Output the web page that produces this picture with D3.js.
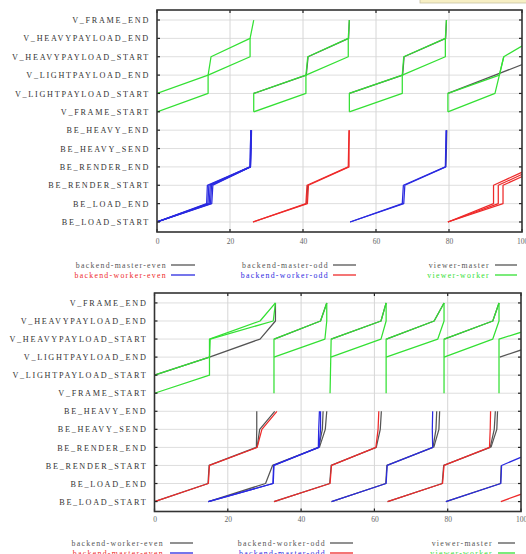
<!DOCTYPE html>
<html><head><meta charset="utf-8">
<script src="https://cdn.jsdelivr.net/npm/d3@7"></script>
<style>html,body{margin:0;padding:0;background:#fff;} svg{display:block;}</style>
</head><body>
<svg id="chart" width="526" height="554"></svg>
<script>
// Event levels, bottom to top
const events = ["BE_LOAD_START","BE_LOAD_END","BE_RENDER_START","BE_RENDER_END","BE_HEAVY_SEND","BE_HEAVY_END",
  "V_FRAME_START","V_LIGHTPAYLOAD_START","V_LIGHTPAYLOAD_END","V_HEAVYPAYLOAD_START","V_HEAVYPAYLOAD_END","V_FRAME_END"];
const timeTicks = [0, 20, 40, 60, 80, 100];

// Each trace: first event name, then the time of that event and of each following event
// ---- run A ----
const runA_backendMasterEven = [
  ["BE_RENDER_END", 79.1, 79.3, 79.4]
];
const runA_backendWorkerEven = [
  ["BE_LOAD_START", 0, 13.6, 13.8, 25.5, 25.6, 25.7],
  ["BE_LOAD_START", 0, 13.95, 14.2, 25.5, 25.6, 25.7],
  ["BE_LOAD_START", 0, 14.3, 14.6, 25.6, 25.7, 25.8],
  ["BE_LOAD_START", 0, 14.65, 14.95, 25.6, 25.7, 25.8],
  ["BE_LOAD_START", 0, 15.0, 15.3, 25.6, 25.8, 25.9],
  ["BE_LOAD_START", 52.9, 67.2, 67.5, 79.0, 79.1, 79.2],
  ["BE_LOAD_START", 52.9, 67.6, 67.9, 79.1, 79.2, 79.3]
];
const runA_backendMasterOdd = [
  ["BE_LOAD_END", 41.0, 41.3]
];
const runA_backendWorkerOdd = [
  ["BE_LOAD_START", 26.3, 40.8, 41.1, 52.4, 52.5, 52.6],
  ["BE_LOAD_START", 26.3, 41.2, 41.5, 52.6, 52.6, 52.7],
  ["BE_LOAD_START", 79.7, 92.2, 92.2, 103.2],
  ["BE_LOAD_START", 79.7, 93.5, 93.5, 104.5],
  ["BE_LOAD_START", 79.7, 94.8, 94.8, 105.8]
];
const runA_viewerMaster = [
  ["V_LIGHTPAYLOAD_START", 26.5, 40.9, 41.4, 52.5, 52.7],
  ["V_LIGHTPAYLOAD_START", 52.7, 67.3, 67.7, 79.1, 79.3],
  ["V_LIGHTPAYLOAD_START", 79.7, 92.6, 105.6]
];
const runA_viewerWorker = [
  ["V_LIGHTPAYLOAD_START", 0, 14.0, 14.8, 25.5, 26.5],
  ["V_FRAME_START", 0, 14.0, 14.0, 25.5, 25.5],
  ["V_FRAME_START", 26.5, 26.5, 40.8, 41.3, 52.4, 52.7],
  ["V_FRAME_START", 26.5, 40.8, 40.8, 52.4, 52.4],
  ["V_FRAME_START", 52.7, 52.7, 67.2, 67.6, 79.0, 79.3],
  ["V_FRAME_START", 52.7, 67.2, 67.2, 79.0, 79.0],
  ["V_FRAME_START", 79.7, 79.7, 93.8, 95.0, 103.5],
  ["V_FRAME_START", 79.7, 92.6, 93.8, 95.0]
];
const legendA = [
  ["backend-master-even", "backend-master-odd", "viewer-master"],
  ["backend-worker-even", "backend-worker-odd", "viewer-worker"]
];

// ---- run B ----
const runB_backendWorkerEven = [
  ["BE_LOAD_START", 14.7, 30.3, 32.2, 44.8, 45.8, 46.0],
  ["BE_RENDER_END", 45.0, 46.6, 47.0],
  ["BE_LOAD_START", 48.3, 63.1, 63.4, 76.0, 76.8, 77.0],
  ["BE_RENDER_END", 76.2, 77.6, 77.8],
  ["BE_LOAD_START", 79.5, 94.4, 94.6]
];
const runB_backendMasterEven = [
  ["BE_LOAD_START", 14.7, 32.4, 32.6, 44.7, 44.8, 45.0],
  ["BE_LOAD_START", 14.7, 32.3, 32.5, 44.9, 45.3, 45.3],
  ["BE_LOAD_START", 48.3, 63.2, 63.5, 75.9, 75.8, 75.9],
  ["BE_LOAD_START", 79.5, 94.5, 94.7, 106.3]
];
const runB_backendWorkerOdd = [
  ["BE_LOAD_START", 0, 14.6, 14.9, 27.8, 27.9, 27.9],
  ["BE_RENDER_END", 28.0, 28.7, 32.8],
  ["BE_LOAD_START", 32.6, 47.8, 48.2, 60.5, 61.6, 61.9],
  ["BE_LOAD_START", 63.6, 78.5, 78.9, 91.6, 92.7, 93.0],
  ["BE_RENDER_END", 91.8, 93.4, 93.6]
];
const runB_backendMasterOdd = [
  ["BE_LOAD_START", 0, 14.7, 15.0, 28.0, 29.3, 33.4],
  ["BE_LOAD_START", 32.6, 47.9, 48.3, 60.4, 61.0, 61.2],
  ["BE_LOAD_START", 63.6, 78.6, 79.0, 91.4, 91.6, 91.7],
  ["BE_LOAD_START", 94.5, 108.0]
];
const runB_viewerMaster = [
  ["V_LIGHTPAYLOAD_START", 0, 15.0, 28.8, 33.0, 33.0],
  ["V_HEAVYPAYLOAD_START", 32.7, 45.3, 47.0],
  ["V_HEAVYPAYLOAD_START", 48.2, 61.8, 63.2],
  ["V_HEAVYPAYLOAD_START", 63.3, 76.3, 79.0],
  ["V_HEAVYPAYLOAD_START", 79.1, 92.3, 94.0],
  ["V_LIGHTPAYLOAD_END", 94.2, 109.0]
];
const runB_viewerWorker = [
  ["V_FRAME_START", 0, 15.0, 15.0, 15.0, 28.8, 33.0],
  ["V_LIGHTPAYLOAD_START", 0, 15.0, 15.2, 32.4, 33.0],
  ["V_FRAME_START", 32.6, 32.6, 32.6, 32.6, 45.3, 47.0],
  ["V_LIGHTPAYLOAD_END", 32.6, 46.5, 47.0, 47.0],
  ["V_FRAME_START", 47.9, 48.0, 48.1, 48.2, 61.8, 63.2],
  ["V_LIGHTPAYLOAD_END", 48.1, 61.8, 63.2, 63.2],
  ["V_FRAME_START", 63.2, 63.2, 63.2, 63.2, 76.3, 79.0],
  ["V_LIGHTPAYLOAD_END", 63.2, 77.3, 79.0, 79.0],
  ["V_FRAME_START", 79.0, 79.0, 79.0, 79.0, 92.3, 94.0],
  ["V_LIGHTPAYLOAD_END", 79.0, 92.3, 94.0, 94.0],
  ["V_FRAME_START", 94.0, 94.0, 94.0, 94.0, 110.0]
];
const legendB = [
  ["backend-worker-even", "backend-worker-odd", "viewer-master"],
  ["backend-master-even", "backend-master-odd", "viewer-worker"]
];

// ---- drawing ----
const GRAY = "#555", RED = "#ee2a2a", BLUE = "#2a2ae0", GREEN = "#33e033";
const svg = d3.select("#chart");
const serif = "'Liberation Serif','DejaVu Serif',serif";

// small yellow note box at the top edge
svg.append("rect").attr("x", 420).attr("y", -3).attr("width", 110).attr("height", 6)
  .attr("fill", "#f7efc4").attr("stroke", "#c9c2a4").attr("stroke-width", 0.8);

const panels = [
  { id: "a", box: { left: 157, right: 522, top: 10, bottom: 232 }, dom: [-0.545, 11.545],
    tickY: 242, legendY: [265, 275],
    series: [
      { traces: runA_backendMasterEven, color: GRAY },
      { traces: runA_backendMasterOdd, color: GRAY },
      { traces: runA_viewerMaster, color: GRAY },
      { traces: runA_backendWorkerEven, color: BLUE },
      { traces: runA_backendWorkerOdd, color: RED },
      { traces: runA_viewerWorker, color: GREEN }
    ],
    legend: legendA,
    legendText: [["#555", "#555", "#555"], [RED, BLUE, GREEN]],
    legendLine: [[GRAY, GRAY, GRAY], [BLUE, RED, GREEN]],
    legendCols: [{ end: 167, x1: 171, x2: 195 }, { end: 329, x1: 333, x2: 356 }, { end: 490, x1: 495, x2: 517 }]
  },
  { id: "b", box: { left: 154.5, right: 521, top: 293, bottom: 511.5 }, dom: [-0.55, 11.55],
    tickY: 520, legendY: [543, 553],
    series: [
      { traces: runB_viewerMaster, color: GRAY },
      { traces: runB_viewerWorker, color: GREEN },
      { traces: runB_backendWorkerEven, color: GRAY },
      { traces: runB_backendWorkerOdd, color: GRAY },
      { traces: runB_backendMasterEven, color: BLUE },
      { traces: runB_backendMasterOdd, color: RED }
    ],
    legend: legendB,
    legendText: [["#555", "#555", "#555"], [RED, BLUE, GREEN]],
    legendLine: [[GRAY, GRAY, GRAY], [BLUE, RED, GREEN]],
    legendCols: [{ end: 164, x1: 170, x2: 193 }, { end: 326, x1: 330, x2: 353 }, { end: 493, x1: 498, x2: 515 }]
  }
];

panels.forEach(p => {
  const b = p.box;
  const x = d3.scaleLinear().domain([0, 100]).range([b.left, b.right]);
  const y = d3.scaleLinear().domain(p.dom).range([b.bottom, b.top]);
  const g = svg.append("g");

  // grid
  g.append("g").selectAll("line").data(d3.range(events.length)).join("line")
    .attr("x1", b.left).attr("x2", b.right).attr("y1", d => y(d)).attr("y2", d => y(d))
    .attr("stroke", "#dedede").attr("stroke-width", 1);
  g.append("g").selectAll("line").data(timeTicks.slice(1, -1)).join("line")
    .attr("y1", b.top).attr("y2", b.bottom).attr("x1", d => x(d)).attr("x2", d => x(d))
    .attr("stroke", "#d6d6d6").attr("stroke-width", 1);

  // traces
  const clipId = "clip-" + p.id;
  svg.append("defs").append("clipPath").attr("id", clipId)
    .append("rect").attr("x", b.left).attr("y", b.top).attr("width", b.right - b.left).attr("height", b.bottom - b.top);
  const line = d3.line().x(d => x(d[0])).y(d => y(d[1]));
  const lg = g.append("g").attr("clip-path", `url(#${clipId})`);
  p.series.forEach(s => {
    lg.append("g").selectAll("path").data(s.traces).join("path")
      .attr("d", tr => {
        const start = events.indexOf(tr[0]);
        return line(tr.slice(1).map((t, i) => [t, start + i]));
      })
      .attr("fill", "none").attr("stroke", s.color).attr("stroke-width", 1.25)
      .attr("stroke-linejoin", "round");
  });

  // axes: event labels on the left, time labels below
  const yAxis = d3.axisLeft(y).tickValues(d3.range(events.length)).tickFormat(i => events[i])
    .tickSize(0).tickPadding(7);
  const ya = g.append("g").attr("transform", `translate(${b.left},0)`).call(yAxis);
  ya.select(".domain").remove();
  ya.selectAll("text").attr("font-family", serif).attr("font-size", 8.2)
    .attr("letter-spacing", "1.7px").attr("fill", "#333");

  const xAxis = d3.axisBottom(x).tickValues(timeTicks).tickSize(0).tickPadding(0);
  const xa = g.append("g").attr("transform", `translate(0,${p.tickY - 3})`).call(xAxis);
  xa.select(".domain").remove();
  xa.selectAll("text").attr("font-family", serif).attr("font-size", 7.5).attr("fill", "#666");

  // tick marks inside the frame
  const tk = g.append("g").attr("stroke", "#222").attr("stroke-width", 1.2);
  d3.range(events.length).forEach(i => {
    tk.append("line").attr("x1", b.left).attr("x2", b.left + 3).attr("y1", y(i)).attr("y2", y(i));
    tk.append("line").attr("x1", b.right - 3).attr("x2", b.right).attr("y1", y(i)).attr("y2", y(i));
  });
  timeTicks.forEach(t => {
    tk.append("line").attr("x1", x(t)).attr("x2", x(t)).attr("y1", b.top).attr("y2", b.top + 3);
    tk.append("line").attr("x1", x(t)).attr("x2", x(t)).attr("y1", b.bottom - 3).attr("y2", b.bottom);
  });

  // frame
  g.append("rect").attr("x", b.left).attr("y", b.top).attr("width", b.right - b.left).attr("height", b.bottom - b.top)
    .attr("fill", "none").attr("stroke", "#333").attr("stroke-width", 1.6);

  // legend
  p.legend.forEach((row, r) => {
    row.forEach((label, c) => {
      const col = p.legendCols[c];
      const yy = p.legendY[r];
      g.append("text").attr("x", col.end).attr("y", yy).attr("dy", "0.33em")
        .attr("text-anchor", "end").attr("font-family", serif).attr("font-size", 7.8)
        .attr("letter-spacing", "1.3px").attr("fill", p.legendText[r][c]).text(label);
      g.append("line").attr("x1", col.x1).attr("x2", col.x2).attr("y1", yy).attr("y2", yy)
        .attr("stroke", p.legendLine[r][c]).attr("stroke-width", 1.3);
    });
  });
});
</script>
</body></html>
